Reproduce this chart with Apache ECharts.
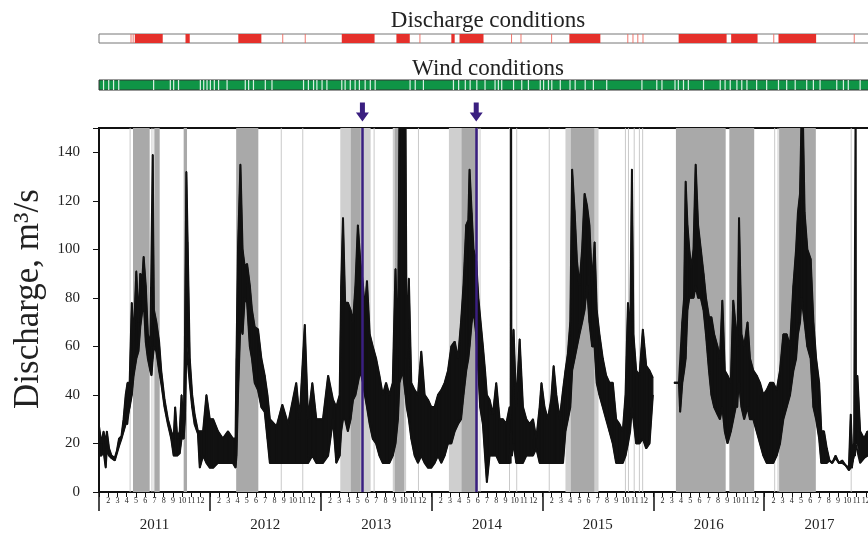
<!DOCTYPE html>
<html>
<head>
<meta charset="utf-8">
<script src="https://cdn.jsdelivr.net/npm/echarts@6/dist/echarts.min.js"></script>
<style>
html, body { margin: 0; padding: 0; background: #fff; }
#chart { width: 868px; height: 535px; }
</style>
</head>
<body>
<div id="chart"></div>
<script>
// [day since 1 Jan 2011, low, high] of the daily discharge swing, m3/s
var q2011 = [
    [0, 15, 27], [8, 15, 20], [15, 17, 25], [22, 10, 20], [26, 18, 25], [33, 15, 18], [41, 14, 15], [52, 13, 14],
    [59, 16, 17], [66, 19, 22], [74, 22, 23], [81, 25, 30], [88, 28, 40], [94, 28, 45], [101, 35, 45], [108, 40, 78],
    [114, 48, 62], [123, 55, 91], [130, 58, 70], [136, 68, 90], [143, 75, 88], [147, 80, 97], [154, 62, 85], [161, 55, 65],
    [169, 50, 60], [173, 48, 60], [177, 55, 139], [181, 60, 75], [189, 58, 70], [198, 50, 62], [205, 45, 50], [216, 35, 38],
    [227, 28, 30], [238, 22, 25], [246, 15, 22], [251, 15, 35], [258, 15, 22], [266, 16, 25], [272, 22, 40], [279, 22, 25],
    [283, 30, 60], [288, 60, 132], [292, 60, 103], [299, 45, 55], [307, 35, 40], [315, 28, 32], [326, 24, 25], [332, 10, 25],
    [343, 15, 25], [354, 12, 40], [365, 10, 30]
];
var q2012 = [
    [376, 10, 30], [392, 12, 25], [408, 12, 22], [425, 12, 25], [441, 12, 22], [450, 10, 22], [453, 15, 55], [458, 40, 100],
    [466, 70, 135], [473, 65, 100], [480, 80, 93], [488, 78, 94], [497, 60, 85], [504, 55, 75], [513, 45, 68], [524, 42, 67],
    [535, 35, 55], [546, 33, 48], [555, 22, 40], [563, 12, 30], [585, 12, 27], [604, 12, 36], [623, 12, 28], [650, 12, 45],
    [661, 12, 30], [678, 12, 69], [689, 12, 30], [703, 15, 45], [716, 12, 30], [738, 12, 30], [755, 15, 48], [771, 30, 38]
];
var q2013 = [
    [782, 12, 35], [793, 15, 40], [798, 25, 85], [804, 30, 113], [811, 30, 78], [820, 25, 78], [829, 30, 75], [837, 38, 70],
    [845, 40, 85], [853, 45, 110], [861, 50, 95], [870, 45, 85], [876, 40, 75], [883, 35, 87], [892, 28, 65], [902, 22, 60],
    [913, 20, 55], [924, 15, 48], [935, 12, 40], [946, 12, 45], [957, 12, 40], [968, 15, 45], [977, 20, 92], [985, 30, 55],
    [990, 45, 150], [1001, 50, 155], [1010, 40, 150], [1014, 35, 55], [1021, 30, 88], [1029, 22, 45], [1040, 15, 42],
    [1051, 12, 40], [1062, 15, 58], [1073, 12, 40], [1084, 10, 38], [1095, 10, 35]
];
var q2014 = [
    [1106, 12, 35], [1117, 15, 40], [1128, 12, 42], [1139, 15, 45], [1150, 20, 50], [1161, 20, 60], [1172, 25, 62],
    [1183, 28, 55], [1193, 30, 70], [1201, 40, 85], [1210, 50, 110], [1217, 55, 112], [1221, 60, 133], [1228, 70, 115],
    [1234, 75, 100], [1243, 65, 95], [1250, 50, 80], [1256, 35, 72], [1265, 28, 60], [1272, 15, 50], [1278, 4, 40],
    [1287, 15, 38], [1298, 15, 32], [1309, 15, 45], [1320, 12, 30], [1331, 12, 30], [1342, 12, 28], [1353, 12, 35],
    [1357, 12, 30], [1358, 25, 155], [1359, 15, 40], [1362, 15, 45], [1366, 20, 67], [1375, 12, 35], [1386, 12, 63],
    [1397, 12, 35], [1408, 15, 30], [1419, 15, 28], [1430, 15, 30], [1441, 18, 22]
];
var q2015 = [
    [1452, 12, 35], [1458, 12, 45], [1468, 12, 35], [1479, 12, 30], [1490, 12, 38], [1498, 12, 52], [1507, 12, 40],
    [1518, 12, 30], [1529, 12, 42], [1537, 25, 50], [1545, 30, 57], [1553, 35, 70], [1559, 50, 133], [1567, 55, 116],
    [1575, 60, 95], [1583, 65, 85], [1592, 70, 100], [1600, 75, 123], [1608, 85, 118], [1616, 70, 110], [1625, 60, 85],
    [1633, 60, 103], [1640, 45, 75], [1649, 40, 65], [1660, 35, 55], [1671, 30, 48], [1682, 25, 45], [1693, 20, 45],
    [1704, 12, 30], [1715, 12, 28], [1726, 12, 25], [1735, 15, 40], [1743, 20, 78], [1750, 25, 60], [1756, 35, 133],
    [1761, 30, 65], [1770, 20, 50], [1781, 20, 48], [1792, 22, 67], [1803, 18, 52], [1814, 20, 50], [1825, 40, 47],
    [1830, null, null]
];
var q2016 = [
    [1895, 45, 45], [1911, 45, 45], [1915, 33, 45], [1922, 45, 70], [1928, 50, 80], [1933, 55, 128], [1939, 75, 110],
    [1945, 80, 100], [1952, 80, 92], [1959, 80, 100], [1966, 85, 135], [1974, 80, 110], [1983, 80, 100], [1992, 75, 90],
    [2000, 65, 80], [2010, 50, 72], [2018, 40, 72], [2027, 35, 65], [2038, 32, 60], [2046, 30, 55], [2054, 35, 79],
    [2062, 25, 50], [2071, 20, 48], [2082, 25, 45], [2090, 30, 79], [2098, 35, 68], [2104, 35, 60], [2109, 45, 113],
    [2117, 35, 65], [2126, 30, 60], [2137, 35, 70], [2145, 30, 55], [2156, 30, 50], [2167, 25, 48], [2178, 20, 45],
    [2189, 15, 40]
];
var q2017 = [
    [2200, 12, 42], [2211, 12, 45], [2222, 12, 45], [2233, 15, 42], [2244, 20, 50], [2255, 30, 65], [2266, 35, 65],
    [2277, 40, 60], [2288, 50, 85], [2297, 55, 100], [2303, 65, 115], [2310, 70, 123], [2315, 80, 155], [2320, 75, 150],
    [2325, 70, 115], [2334, 60, 100], [2345, 55, 96], [2354, 35, 70], [2363, 30, 55], [2373, 22, 45], [2380, 12, 25],
    [2389, 12, 25], [2398, 12, 18], [2407, 13, 13], [2416, 12, 12], [2427, 14, 15], [2438, 12, 12], [2449, 12, 13],
    [2460, 11, 11], [2471, 9, 10], [2477, 10, 32], [2482, 10, 15], [2488, 15, 20], [2492, 15, 20], [2493, 20, 155],
    [2494, 20, 40], [2499, 20, 48], [2508, 12, 25], [2521, 14, 22], [2532, 15, 25], [2545, 15, 22], [2557, 18, 20]
];

var yearLabels = ['2011', '2012', '2013', '2014', '2015', '2016', '2017'];
var markerDays = [868, 1243];

// grey shading under the hydrograph
var grayBands = [[112, 167], [183, 200], [279, 290], [452, 525], [830, 862], [975, 1005], [1195, 1245], [1555, 1632], [1901, 2065], [2077, 2159], [2241, 2362]];
var grayLight = [[795, 895], [968, 1012], [1153, 1250], [1537, 1646]];
var grayLines = [101, 173, 180, 599, 670, 905, 1051, 1254, 1351, 1375, 1482, 1733, 1743, 1762, 1779, 1790, 1913, 2225, 2236, 2477];

// discharge conditions strip
var redSpans = [[118, 210], [285, 299], [459, 535], [800, 908], [980, 1024], [1161, 1172], [1188, 1267], [1550, 1652], [1910, 2068], [2083, 2170], [2239, 2363]];
var redLines = [104, 111, 604, 678, 1056, 1358, 1389, 1490, 1741, 1758, 1774, 1791, 2222, 2487];

// wind conditions strip (white gaps)
var windGaps = [13, 30, 46, 63, 178, 233, 244, 260, 332, 343, 354, 365, 378, 392, 420, 480, 491, 507, 546, 568,
    672, 688, 705, 716, 733, 749, 798, 809, 826, 842, 856, 875, 892, 908, 1023, 1040, 1067, 1166, 1183, 1205, 1221, 1243, 1270,
    1303, 1314, 1325, 1364, 1391, 1413, 1452, 1463, 1479, 1490, 1518, 1550, 1567, 1600, 1627, 1671, 1787, 1836, 1853,
    1896, 1907, 1924, 1940, 1990, 2045, 2061, 2078, 2100, 2116, 2133, 2165, 2198, 2237, 2264, 2292, 2330, 2352, 2374, 2429, 2451, 2467, 2506];

var serif = 'Liberation Serif';
var dayMax = 2557;
var ink = '#111';
var plotW = 776; // 7 full years, the last few px fall outside the window

var rows = [].concat(q2011, q2012, q2013, q2014, q2015, q2016, q2017);
var lowData = rows.map(function (r) { return [r[0], r[1]]; });
var highData = rows.map(function (r) { return [r[0], r[2]]; });
// one quad per pair of neighbouring rows, filled between low and high
var bandData = [];
for (var i = 0; i < rows.length - 1; i++) {
    var a = rows[i], b = rows[i + 1];
    if (a[1] == null || b[1] == null) continue;
    bandData.push([a[0], a[1], a[2], b[0], b[1], b[2]]);
}

function areas(list, color, w) {
    return list.map(function (s) {
        var a = Array.isArray(s) ? s[0] : s;
        var b = Array.isArray(s) ? s[1] : s + w;
        return [{xAxis: a, itemStyle: {color: color}}, {xAxis: b}];
    });
}

function renderBand(params, api) {
    var pts = [
        api.coord([api.value(0), api.value(1)]),
        api.coord([api.value(3), api.value(4)]),
        api.coord([api.value(3), api.value(5)]),
        api.coord([api.value(0), api.value(2)])
    ];
    return {
        type: 'polygon',
        shape: {points: pts},
        style: {fill: ink, stroke: ink, lineWidth: 1.2, lineJoin: 'round'}
    };
}

var chart = echarts.init(document.getElementById('chart'));
var option = {
    animation: false,
    title: [
        {text: 'Discharge conditions', left: 483, top: 4, textAlign: 'center',
            textStyle: {fontFamily: serif, fontSize: 23, fontWeight: 'normal', color: '#222'}},
        {text: 'Wind conditions', left: 483, top: 52, textAlign: 'center',
            textStyle: {fontFamily: serif, fontSize: 23, fontWeight: 'normal', color: '#222'}}
    ],
    grid: [
        {left: 99, width: plotW, top: 128, bottom: 43, outerBoundsMode: 'none', show: true, borderColor: ink, borderWidth: 2},
        {left: 99, width: plotW, top: 34, height: 9, outerBoundsMode: 'none', show: true, borderColor: '#777', borderWidth: 1, backgroundColor: '#fff'},
        {left: 99, width: plotW, top: 80, height: 10, outerBoundsMode: 'none', show: true, borderColor: '#333', borderWidth: 1, backgroundColor: '#0f9446'},
        {left: 99, width: plotW, top: 102, height: 20, outerBoundsMode: 'none'}
    ],
    xAxis: [
        {type: 'value', gridIndex: 0, min: 0, max: dayMax, show: false},
        {   // months
            type: 'value', gridIndex: 0, position: 'bottom', min: 0, max: 84, interval: 1,
            axisLine: {lineStyle: {color: ink, width: 2}},
            axisTick: {length: 5, lineStyle: {color: ink}},
            splitLine: {show: false},
            axisLabel: {
                fontFamily: serif, fontSize: 8, color: '#222', margin: 5,
                formatter: function (v) { var m = v % 12 + 1; return m === 1 ? '' : String(m); }
            }
        },
        {   // year boundaries
            type: 'value', gridIndex: 0, position: 'bottom', min: 0, max: 84, interval: 12,
            axisLine: {show: false},
            axisTick: {length: 19, lineStyle: {color: ink, width: 1.5}},
            splitLine: {show: false},
            axisLabel: {show: false}
        },
        {   // year labels
            type: 'value', gridIndex: 0, position: 'bottom', min: 0, max: 84, interval: 6,
            axisLine: {show: false}, axisTick: {show: false}, splitLine: {show: false},
            axisLabel: {
                fontFamily: serif, fontSize: 15, color: '#222', margin: 26,
                formatter: function (v) { return v % 12 === 6 ? yearLabels[(v - 6) / 12] : ''; }
            }
        },
        {type: 'value', gridIndex: 1, min: 0, max: dayMax, show: false},
        {type: 'value', gridIndex: 2, min: 0, max: dayMax, show: false},
        {type: 'value', gridIndex: 3, min: 0, max: dayMax, show: false}
    ],
    yAxis: [
        {
            type: 'value', gridIndex: 0, min: 0, max: 150, interval: 20,
            name: 'Discharge, m\u00b3/s', nameLocation: 'middle', nameGap: 52,
            nameTextStyle: {fontFamily: serif, fontSize: 35, color: '#222', padding: [0, 0, 0, 22]},
            axisLine: {show: true, lineStyle: {color: ink, width: 2}},
            axisTick: {length: 6, lineStyle: {color: ink}},
            splitLine: {show: false},
            axisLabel: {
                fontFamily: serif, fontSize: 15, color: '#222', margin: 19,
                formatter: function (v) { return v > 140 ? '' : v; }
            }
        },
        {type: 'value', gridIndex: 1, min: 0, max: 1, show: false},
        {type: 'value', gridIndex: 2, min: 0, max: 1, show: false},
        {type: 'value', gridIndex: 3, min: 0, max: 1, show: false}
    ],
    series: [
        {
            type: 'line', xAxisIndex: 0, yAxisIndex: 0, data: [], z: 1, silent: true,
            markArea: {
                silent: true,
                data: areas(grayLight, '#cfcfcf')
                    .concat(areas(grayLines, '#c4c4c4', 3))
                    .concat(areas(grayBands, '#a9a9a9'))
            }
        },
        {
            type: 'custom', xAxisIndex: 0, yAxisIndex: 0, data: bandData, z: 3, clip: true, silent: true,
            encode: {x: [0, 3], y: [1, 2, 4, 5]},
            renderItem: renderBand
        },
        {
            type: 'line', xAxisIndex: 0, yAxisIndex: 0, data: lowData,
            symbol: 'none', z: 3, lineStyle: {color: ink, width: 2}
        },
        {
            type: 'line', xAxisIndex: 0, yAxisIndex: 0, data: highData,
            symbol: 'none', z: 3, lineStyle: {color: ink, width: 2}
        },
        {
            type: 'line', xAxisIndex: 0, yAxisIndex: 0, data: [], z: 5, silent: true,
            markLine: {
                silent: true, symbol: 'none', label: {show: false},
                lineStyle: {color: '#3a1f80', width: 2.5, type: 'solid', opacity: 1},
                data: markerDays.map(function (d) { return {xAxis: d}; })
            }
        },
        {
            type: 'line', xAxisIndex: 4, yAxisIndex: 1, data: [], silent: true,
            markArea: {silent: true, data: areas(redSpans, '#e5302b').concat(areas(redLines, '#ec6a60', 3))}
        },
        {
            type: 'line', xAxisIndex: 5, yAxisIndex: 2, data: [], silent: true,
            markArea: {silent: true, data: areas(windGaps, 'rgba(255,255,255,0.85)', 4)}
        },
        {
            type: 'scatter', xAxisIndex: 6, yAxisIndex: 3, silent: true,
            symbol: 'path://M4,0 L9,0 L9,10 L13,10 L6.5,19 L0,10 L4,10 Z',
            symbolSize: [13, 19],
            itemStyle: {color: '#3a1f80', opacity: 1},
            data: markerDays.map(function (d) { return [d, 0.5]; })
        }
    ]
};
chart.setOption(option);
</script>
</body>
</html>
